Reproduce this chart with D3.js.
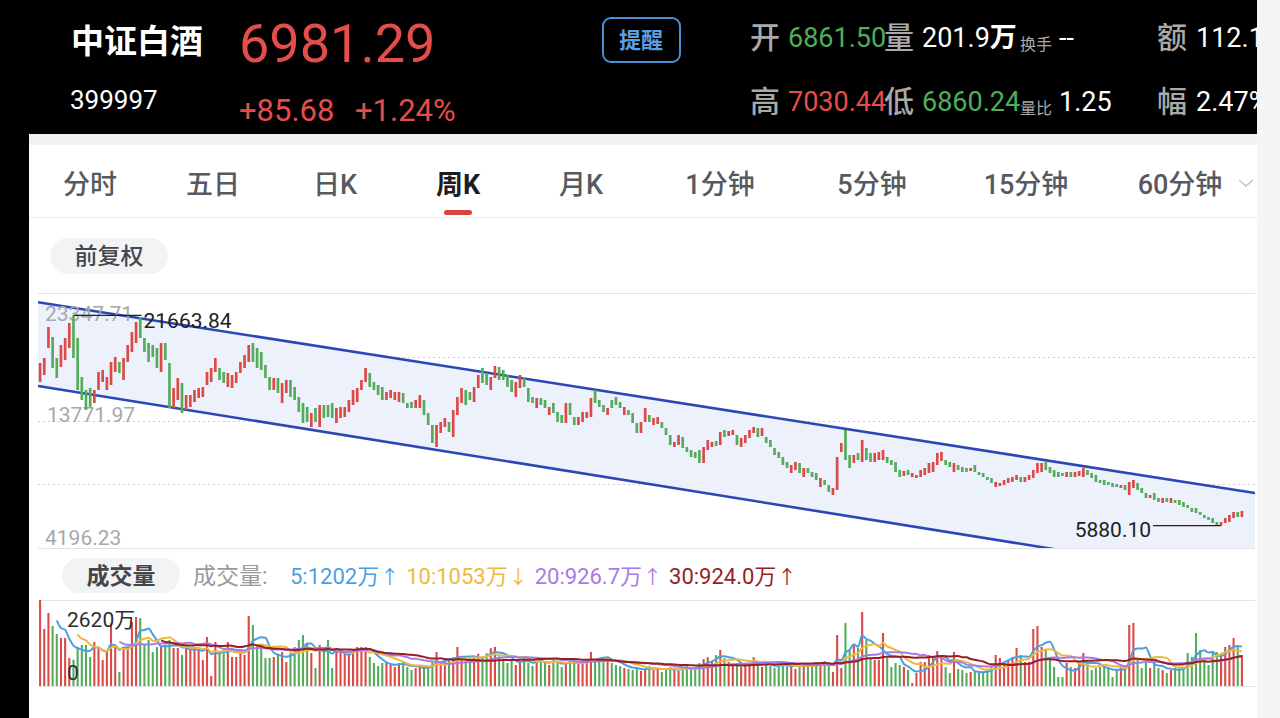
<!DOCTYPE html>
<html>
<head>
<meta charset="utf-8">
<style>
  html, body { margin: 0; padding: 0; background: #000; }
  svg { display: block; }
  text { font-family: Roboto, "Noto Sans CJK SC", sans-serif; }
</style>
</head>
<body>
<div id="chart"></div>
<script src="https://d3js.org/d3.v7.min.js"></script>
<script>
// ---- quote header ----
const quoteName = '中证白酒';
const quoteCode = '399997';
const lastPrice = 6981.29;
const change = '+85.68';
const changePct = '+1.24%';
const quoteRow1 = ['开', '6861.50', '量', '201.9', '换手', '--', '额', '112.1亿'];
const quoteRow2 = ['高', '7030.44', '低', '6860.24', '量比', '1.25', '幅', '2.47%'];

const tabLabels = ['分时', '五日', '日K', '周K', '月K', '1分钟', '5分钟', '15分钟', '60分钟'];
const activeTab = '周K';

// ---- price axis (top, middle, bottom) ----
const priceAxis = [23347.71, 13771.97, 4196.23];

// ---- weekly candles ----
const opens = [
  16664, 17189, 19217, 20043, 18466, 17790, 18316, 19217, 21663.84, 19968,
  17039, 16063, 16213, 15087, 16063, 16664, 16063, 16438, 17415, 18166,
  16814, 18166, 18917, 19593, 21545, 19968, 19593, 19443, 19217, 17415,
  19593, 18091, 14711, 15312, 16589, 14561, 14786, 15162, 15462, 15537,
  16438, 16664, 17415, 17715, 17415, 16288, 16213, 16589, 17340, 17715,
  18166, 19593, 19217, 18917, 17940, 17039, 16063, 16964, 15087, 15838,
  16814, 16288, 15537, 15087, 14786, 13284, 14711, 13284, 14937, 14937,
  15087, 13585, 13960, 14035, 14411, 14937, 15162, 16063, 16664, 17340,
  16664, 16438, 16288, 15312, 15462, 15312, 15162, 15838, 15087, 15162,
  14711, 14711, 15312, 14336, 13434, 11782, 12834, 13284, 13660, 12533,
  14185, 15087, 16063, 15913, 15162, 16213, 17715, 17340, 16063, 16964,
  17790, 17565, 17189, 16814, 15537, 16213, 17039, 16213, 15537, 14711,
  15462, 15312, 14185, 15087, 14411, 14185, 13585, 15087, 14035, 13434,
  13660, 13960, 14035, 16063, 15312, 14937, 14185, 15312, 15537, 15162,
  14185, 14561, 14336, 13585, 12834, 13660, 14185, 13434, 13509, 13660,
  13209, 12683, 11782, 11932, 12533, 11782, 11557, 11407, 11557, 10581,
  11557, 11782, 12233, 11932, 13059, 12608, 12683, 12683, 11782, 12083,
  12458, 12834, 13209, 12608, 12533, 12308, 11707, 11407, 11031, 10656,
  9830, 10055, 10581, 9529, 10205, 9905, 9830, 8778, 9304, 8928,
  8177, 8553, 11407, 13059, 11181, 10581, 11332, 10656, 11707, 11332,
  10656, 10806, 10806, 11031, 10806, 10656, 10055, 9605, 10055, 9529,
  9454, 9529, 9679, 9830, 9905, 10431, 10731, 10806, 10656, 9905,
  10431, 10280, 10205, 9980, 10431, 9905, 9830, 9529, 9454, 8778,
  8853, 8928, 9079, 9154, 9304, 9529, 9154, 9304, 9454, 9830,
  9905, 10656, 10280, 10055, 9905, 9830, 9529, 9905, 9529, 9605,
  9529, 10055, 9830, 9679, 9304, 9304, 9154, 9079, 9004, 8703,
  8928, 8177, 8703, 9079, 8703, 8328, 7952, 8328, 7952, 7577,
  7952, 7577, 7802, 7802, 7652, 7426, 7201, 7201, 6901, 6675,
  6525, 6450, 6150, 5880.10, 6075, 6150, 6450, 6901, 6525
];
const closes = [
  18091, 18466, 20794, 17715, 16964, 19443, 19968, 21095, 18466, 16063,
  15312, 14561, 14786, 16063, 17415, 17565, 17039, 18166, 18541, 17340,
  18466, 19443, 20419, 21170, 19968, 18917, 18166, 18541, 17715, 19593,
  18316, 14711, 16213, 16964, 14336, 15687, 15687, 16063, 16213, 16288,
  17415, 17715, 18466, 16814, 16589, 17340, 17189, 17415, 18166, 18691,
  19443, 18166, 17715, 17565, 16964, 16063, 16964, 15838, 16589, 16814,
  15537, 15312, 14411, 13585, 13660, 14336, 13660, 14937, 13960, 14035,
  13960, 14711, 14786, 14786, 15312, 16063, 16213, 16814, 17715, 16288,
  16063, 15687, 15312, 15913, 16063, 15913, 15913, 15087, 14711, 14711,
  15312, 15687, 14185, 13434, 12083, 13434, 13660, 13960, 12909, 14561,
  15537, 16213, 14937, 15312, 16288, 17189, 16589, 16438, 17039, 17865,
  16814, 16814, 16288, 15913, 16664, 17189, 16288, 15162, 15087, 15462,
  14937, 14711, 14786, 14336, 13660, 13585, 15087, 14185, 13434, 14035,
  14411, 14411, 15462, 15087, 14786, 14411, 14711, 14711, 14937, 14711,
  14786, 14185, 13585, 12834, 13660, 14711, 13660, 13960, 14035, 13209,
  12683, 11932, 12158, 12683, 11707, 11407, 11031, 10956, 10581, 11782,
  12308, 12158, 11857, 12909, 12533, 12984, 13059, 11932, 12458, 12683,
  13059, 13284, 12533, 13209, 12083, 11782, 11181, 10956, 10431, 10205,
  10431, 10656, 9830, 10205, 9830, 9529, 9304, 9454, 8928, 8403,
  8703, 11031, 12083, 10806, 10205, 11181, 10806, 12308, 10806, 10656,
  11332, 11407, 11557, 10581, 10431, 9905, 9529, 9980, 9679, 9830,
  9679, 10055, 10205, 10581, 10656, 11332, 11407, 10431, 10280, 10581,
  10055, 9905, 9905, 10205, 9905, 9679, 9529, 9304, 9079, 9154,
  9079, 9304, 9454, 9529, 9679, 9154, 9529, 9679, 10055, 10581,
  10581, 10055, 9830, 9529, 9529, 9605, 9905, 9529, 9905, 9980,
  10205, 9679, 9454, 9154, 9079, 8928, 8928, 8778, 8778, 8928,
  8553, 9154, 9304, 8553, 8328, 7952, 8177, 7802, 7652, 7952,
  7652, 7952, 7577, 7426, 7276, 7201, 6901, 6826, 6675, 6450,
  6300, 6075, 5924, 6150, 6450, 6675, 6901, 6525, 6981.29
];
// weekly volume, 万
const volumes = [
  2620, 1737, 2224, 1828, 1584, 1463, 1463, 853, 800, 1188,
  1249, 1249, 884, 1341, 1158, 792, 1097, 1920, 1249, 427,
  1158, 1158, 1950, 2102, 2072, 1249, 1402, 1036, 1188, 1188,
  1249, 1402, 1158, 1158, 945, 1158, 1158, 1158, 1097, 792,
  1493, 305, 1341, 1036, 1097, 1341, 884, 884, 1036, 945,
  2133, 1859, 1249, 1249, 853, 853, 884, 945, 1036, 731,
  1006, 1188, 1402, 1554, 1310, 1006, 548, 1249, 1158, 1402,
  548, 1036, 1036, 1036, 1036, 1097, 1188, 1188, 1188, 884,
  700, 609, 700, 700, 640, 579, 700, 731, 579, 487,
  548, 579, 579, 579, 731, 1036, 731, 731, 790, 880,
  1190, 850, 760, 820, 900, 980, 850, 1000, 1150, 1190,
  900, 760, 700, 820, 640, 730, 880, 700, 610, 760,
  850, 700, 640, 790, 730, 580, 700, 820, 760, 670,
  730, 760, 1040, 790, 850, 880, 820, 700, 640, 600,
  550, 520, 490, 580, 460, 520, 610, 490, 550, 430,
  520, 580, 490, 460, 550, 610, 520, 580, 700, 820,
  880, 760, 940, 1100, 850, 730, 640, 700, 580, 610,
  670, 880, 640, 580, 700, 610, 550, 640, 700, 580,
  610, 520, 640, 700, 580, 610, 730, 670, 760, 640,
  427, 1554, 548, 1920, 1097, 1249, 1158, 2255, 1402, 853,
  792, 792, 1615, 853, 579, 700, 640, 579, 487, 91,
  396, 731, 731, 945, 884, 1066, 945, 579, 396, 1036,
  518, 487, 396, 427, 427, 427, 427, 487, 579, 945,
  853, 731, 792, 884, 1158, 945, 731, 731, 1737, 1828,
  1188, 1097, 884, 579, 274, 274, 700, 579, 548, 731,
  1006, 731, 487, 548, 579, 579, 548, 274, 487, 579,
  579, 1859, 1920, 792, 548, 731, 548, 731, 548, 487,
  396, 487, 548, 579, 579, 1006, 884, 1615, 1097, 853,
  640, 1006, 1036, 1006, 1188, 1249, 1463, 1188, 945
];

// drawn channel: [week index, price]
const channelUpper = [[0, 22627], [288, 8477]];
const channelLower = [[0, 16341], [288, 1845]];

// volume moving averages shown in the legend
const maPeriods = [5, 10, 20, 30];
const maLegendValues = [1202, 1053, 926.7, 924.0];
const maArrows = ['↑', '↓', '↑', '↑'];
const maColors = ['#4a9fe2', '#eeb93c', '#a67be6', '#961f26'];

const red = '#dc4a48';
const green = '#54ac5b';

const svg = d3.select('#chart').append('svg')
  .attr('width', 1280)
  .attr('height', 718);

// page background
svg.append('rect').attr('width', 1280).attr('height', 718).attr('fill', '#000');
svg.append('rect').attr('x', 1257).attr('width', 23).attr('height', 718).attr('fill', '#f5f5f6');
svg.append('rect').attr('x', 29).attr('y', 134).attr('width', 1228).attr('height', 584).attr('fill', '#fff');
svg.append('rect').attr('x', 29).attr('y', 134).attr('width', 1228).attr('height', 11).attr('fill', '#f2f2f3');

function addText(parent, x, y, str, size, color, weight, anchor) {
  return parent.append('text')
    .attr('x', x).attr('y', y)
    .attr('font-size', size)
    .attr('fill', color)
    .attr('font-weight', weight || 400)
    .attr('text-anchor', anchor || 'start')
    .text(str);
}

// ---- header ----
svg.append('clipPath').attr('id', 'hclip')
  .append('rect').attr('width', 1257).attr('height', 134);
const head = svg.append('g').attr('clip-path', 'url(#hclip)');

addText(head, 71, 53, quoteName, 33, '#fff', 700);
addText(head, 239, 62, d3.format('.2f')(lastPrice), 54, '#e54d4a');
addText(head, 70, 109, quoteCode, 26, '#fff');
addText(head, 239, 121, change, 31, '#e54d4a');
addText(head, 355, 121, changePct, 31, '#e54d4a');

head.append('rect')
  .attr('x', 603).attr('y', 18).attr('width', 77).attr('height', 44).attr('rx', 8)
  .attr('fill', 'none').attr('stroke', '#4a8fd6').attr('stroke-width', 2);
addText(head, 641, 48, '提醒', 22, '#5b9ee6', 700, 'middle');

const colX = [750, 788, 884, 922, 1020, 1059, 1157, 1196];
function quoteRow(row, base, numColors) {
  row.forEach((s, k) => {
    if (k === 0 || k === 2 || k === 6) {
      addText(head, colX[k], base + 1, s, 30, '#a9a9a9', 500);
    } else if (k === 4) {
      addText(head, colX[k], base + 3, s, 16, '#a9a9a9');
    } else {
      const t = addText(head, colX[k], base, s, 27, numColors[k] || '#fff');
      if (k === 3 && row === quoteRow1) t.append('tspan').attr('font-weight', 700).text('万');
    }
  });
}
quoteRow(quoteRow1, 47, { 1: '#4fae5a' });
quoteRow(quoteRow2, 111, { 1: '#e54d4a', 3: '#4fae5a' });

// ---- tabs ----
const tabCenters = [90, 213, 335, 458, 581, 720, 872, 1026, 1180];
tabLabels.forEach((s, k) => {
  const on = s === activeTab;
  addText(svg, tabCenters[k], 194, s, 27, on ? '#1c1c1e' : '#565a60', on ? 700 : 500, 'middle');
});
svg.append('rect').attr('x', 444).attr('y', 210).attr('width', 28).attr('height', 5)
  .attr('rx', 2.5).attr('fill', '#d9443f');
svg.append('path').attr('d', 'M1239,180 l7,6 l7,-6').attr('fill', 'none')
  .attr('stroke', '#c4c4c4').attr('stroke-width', 1.5);
svg.append('line').attr('x1', 29).attr('x2', 1257).attr('y1', 217.5).attr('y2', 217.5)
  .attr('stroke', '#ededed');

svg.append('rect').attr('x', 50).attr('y', 238).attr('width', 118).attr('height', 36)
  .attr('rx', 18).attr('fill', '#f2f3f5');
addText(svg, 109, 264, '前复权', 23, '#43464b', 500, 'middle');

// ---- price chart ----
const plot = { left: 38, right: 1255, top: 293, bottom: 548 };
const n = closes.length;
const x = d3.scaleBand().domain(d3.range(n)).range([plot.left, 1244]);
const bw = x.bandwidth();
const cx = i => x(0) + bw / 2 + i * x.step();
const y = d3.scaleLinear().domain([priceAxis[2], priceAxis[0]]).range([plot.bottom, plot.top]);

const candles = closes.map((c, i) => ({ i, o: opens[i], c, v: volumes[i], up: c >= opens[i] }));

// grid
const gridVals = d3.range(5).map(k => priceAxis[2] + k * (priceAxis[0] - priceAxis[2]) / 4);
svg.append('g').selectAll('line').data(gridVals).join('line')
  .attr('x1', plot.left).attr('x2', plot.right)
  .attr('y1', d => Math.round(y(d)) + 0.5).attr('y2', d => Math.round(y(d)) + 0.5)
  .attr('stroke', (d, k) => (k === 0 || k === 4) ? '#e3e3e3' : '#cfcfcf')
  .attr('stroke-dasharray', (d, k) => (k === 0 || k === 4) ? null : '2,3');

svg.append('clipPath').attr('id', 'pclip')
  .append('rect').attr('x', plot.left).attr('y', plot.top)
  .attr('width', plot.right - plot.left).attr('height', plot.bottom - plot.top);

function chanAt(ch, i) {
  const [i0, v0] = ch[0], [i1, v1] = ch[1];
  return v0 + (v1 - v0) * (i - i0) / (i1 - i0);
}
const iL = (plot.left - cx(0)) / x.step();
const iR = (plot.right - cx(0)) / x.step();
const chan = svg.append('g').attr('clip-path', 'url(#pclip)');
chan.append('path')
  .attr('d', d3.line()([
    [plot.left, y(chanAt(channelUpper, iL))],
    [plot.right, y(chanAt(channelUpper, iR))],
    [plot.right, y(chanAt(channelLower, iR))],
    [plot.left, y(chanAt(channelLower, iL))]
  ]) + 'Z')
  .attr('fill', '#ecf1fb');

// axis labels
const labelGap = [28, 1, -3];
priceAxis.forEach((v, k) => {
  addText(svg, k === 1 ? 47 : 45, y(v) + labelGap[k], d3.format('.2f')(v), 21, '#a5a8ae');
});

// candles
svg.append('g').selectAll('rect').data(candles).join('rect')
  .attr('x', d => x(d.i) + bw * 0.18)
  .attr('width', bw * 0.64)
  .attr('y', d => y(Math.max(d.o, d.c)))
  .attr('height', d => Math.max(1, Math.abs(y(d.o) - y(d.c))))
  .attr('fill', d => d.up ? red : green);

// channel lines
[channelUpper, channelLower].forEach(ch => {
  chan.append('line')
    .attr('x1', plot.left).attr('y1', y(chanAt(ch, iL)))
    .attr('x2', plot.right).attr('y2', y(chanAt(ch, iR)))
    .attr('stroke', '#2a47b5').attr('stroke-width', 2.6);
});

// max / min markers
const tops = candles.map(d => Math.max(d.o, d.c));
const bots = candles.map(d => Math.min(d.o, d.c));
const iMax = d3.maxIndex(tops), iMin = d3.minIndex(bots);
const yMax = y(tops[iMax]), yMin = y(bots[iMin]);
svg.append('line').attr('x1', cx(iMax)).attr('x2', cx(iMax) + 68)
  .attr('y1', yMax).attr('y2', yMax).attr('stroke', '#222').attr('stroke-width', 1.2);
addText(svg, cx(iMax) + 70, yMax + 13, d3.format('.2f')(tops[iMax]), 21, '#1e1e1e');
svg.append('line').attr('x1', cx(iMin)).attr('x2', cx(iMin) - 68)
  .attr('y1', yMin).attr('y2', yMin).attr('stroke', '#222').attr('stroke-width', 1.2);
addText(svg, cx(iMin) - 70, yMin + 11, d3.format('.2f')(bots[iMin]), 21, '#1e1e1e', 400, 'end');

// ---- volume ----
svg.append('rect').attr('x', 62).attr('y', 558).attr('width', 118).attr('height', 35)
  .attr('rx', 17.5).attr('fill', '#f2f3f5');
addText(svg, 121, 584, '成交量', 23, '#43464b', 700, 'middle');

const fmtMa = v => v >= 1000 ? d3.format('d')(v) : d3.format('.1f')(v);
addText(svg, 193, 584, '成交量:', 23, '#9a9a9c');
const legend = svg.append('text').attr('x', 290).attr('y', 584).attr('font-size', 22);
maPeriods.forEach((p, k) => {
  legend.append('tspan').attr('dx', k === 0 ? 0 : 7).attr('fill', maColors[k])
    .text(`${p}:${fmtMa(maLegendValues[k])}万`);
  legend.append('tspan').attr('dx', 1).attr('fill', maColors[k]).attr('font-size', 19)
    .text(maArrows[k]);
});

const vTop = 600, vBot = 686;
const vy = d3.scaleLinear().domain([0, d3.max(volumes)]).range([vBot, vTop]);
[vTop, vBot].forEach(v => {
  svg.append('line').attr('x1', plot.left).attr('x2', plot.right)
    .attr('y1', v + 0.5).attr('y2', v + 0.5).attr('stroke', '#e3e3e3');
});

svg.append('g').selectAll('rect').data(candles).join('rect')
  .attr('x', d => x(d.i) + bw * 0.25)
  .attr('width', bw * 0.5)
  .attr('y', d => vy(d.v))
  .attr('height', d => vBot - vy(d.v))
  .attr('fill', d => d.up ? red : green);

maPeriods.forEach((p, k) => {
  const ma = volumes.map((v, i) => i < p - 1 ? null : d3.mean(volumes.slice(i - p + 1, i + 1)));
  svg.append('path')
    .attr('d', d3.line()
      .defined(d => d != null)
      .x((d, i) => cx(i))
      .y(d => vy(d))
      .curve(d3.curveMonotoneX)(ma))
    .attr('fill', 'none')
    .attr('stroke', maColors[k])
    .attr('stroke-width', 2);
});

addText(svg, 67, 627, `${d3.max(volumes)}万`, 21, '#2e2e2e');
addText(svg, 67, 680, '0', 21, '#2e2e2e');
</script>
</body>
</html>
